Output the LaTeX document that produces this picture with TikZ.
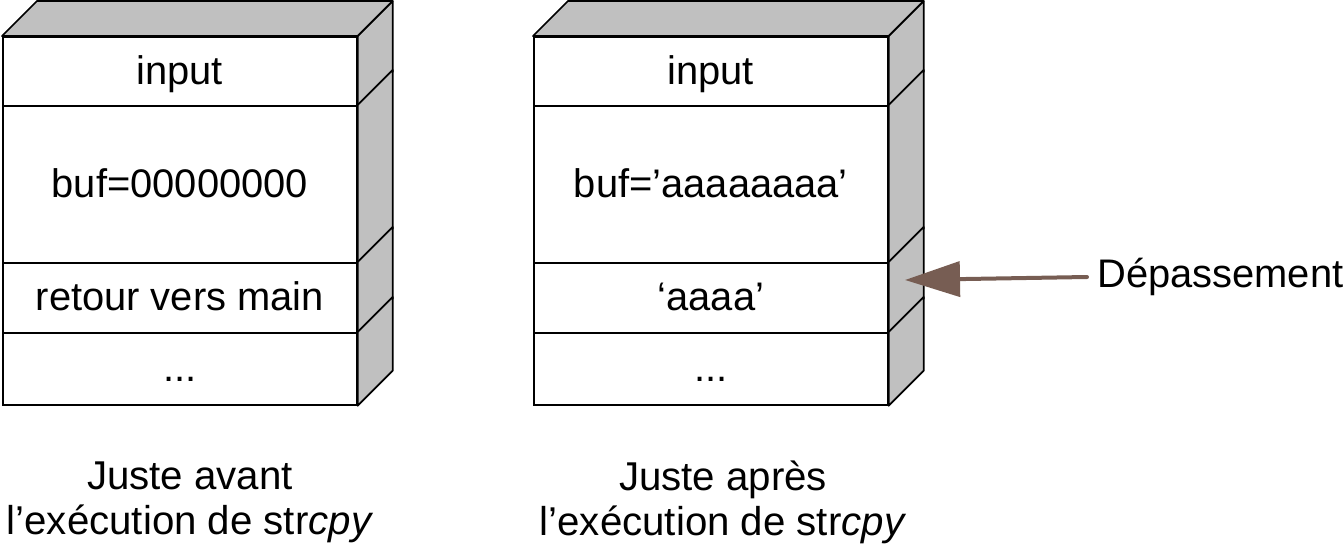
\documentclass[tikz,border=0pt]{standalone}
\usepackage{fontspec}
\setmainfont{Liberation Sans}
\usetikzlibrary{arrows.meta,calc}
\definecolor{sidegray}{RGB}{192,192,192}
\definecolor{arrowbrown}{RGB}{119,93,83}
\tikzset{
    cell/.style={draw, fill=white, line width=1pt, inner sep=0pt, minimum width=7.08cm, text height=0.72cm, text depth=0.2cm, anchor=north west, font=\fontsize{22.7}{27}\selectfont},
    face/.style={draw, fill=sidegray, line width=1pt, line join=round},
    caption/.style={align=center, font=\fontsize{22.9}{25.5}\selectfont},
}
\begin{document}
\begin{tikzpicture}[x=0.02cm, y=-0.02cm]
    \useasboundingbox (0,0) rectangle (1343,551);
    % pile avant strcpy
    \node [cell, minimum height=1.38cm] (ainput) at (2,36) {input};
    \node [cell, minimum height=3.14cm] (abuf) at (2,105) {buf=00000000};
    \node [cell, minimum height=1.40cm] (aret) at (2,262) {retour vers main};
    \node [cell, minimum height=1.44cm] (adots) at (2,332) {...};
    % pile apres strcpy
    \node [cell, minimum height=1.38cm] (binput) at (533,36) {input};
    \node [cell, minimum height=3.14cm] (bbuf) at (533,105) {buf=’aaaaaaaa’};
    \node [cell, minimum height=1.40cm] (bret) at (533,262) {‘aaaa’};
    \node [cell, minimum height=1.44cm] (bdots) at (533,332) {...};
    % faces en relief
    \foreach \n in {ainput,abuf,aret,adots,binput,bbuf,bret,bdots}
        \draw [face] (\n.north east) -- ++(0.7cm,0.7cm) -- ($(\n.south east)+(0.7cm,0.7cm)$) -- (\n.south east) -- cycle;
    \draw [face] (ainput.north west) -- ++(0.7cm,0.7cm) -- ($(ainput.north east)+(0.7cm,0.7cm)$) -- (ainput.north east) -- cycle;
    \draw [face] (binput.north west) -- ++(0.7cm,0.7cm) -- ($(binput.north east)+(0.7cm,0.7cm)$) -- (binput.north east) -- cycle;
    % legendes
    \node [caption] (acap) at (190,502) {Juste avant\\l’exécution de str\textit{cpy}};
    \node [caption] (bcap) at (723,502) {Juste après\\l’exécution de str\textit{cpy}};
    \coordinate (tip) at (905,280);
    \node [font=\fontsize{22.7}{27}\selectfont, inner xsep=0.2cm, inner ysep=0pt, anchor=west] (depass) at (1087,277) {Dépassement};
    \draw [arrowbrown, line width=0.08cm, line cap=round, -{Triangle[length=1.1cm,width=0.7cm]}] (depass.west) -- (tip);
\end{tikzpicture}
\end{document}
